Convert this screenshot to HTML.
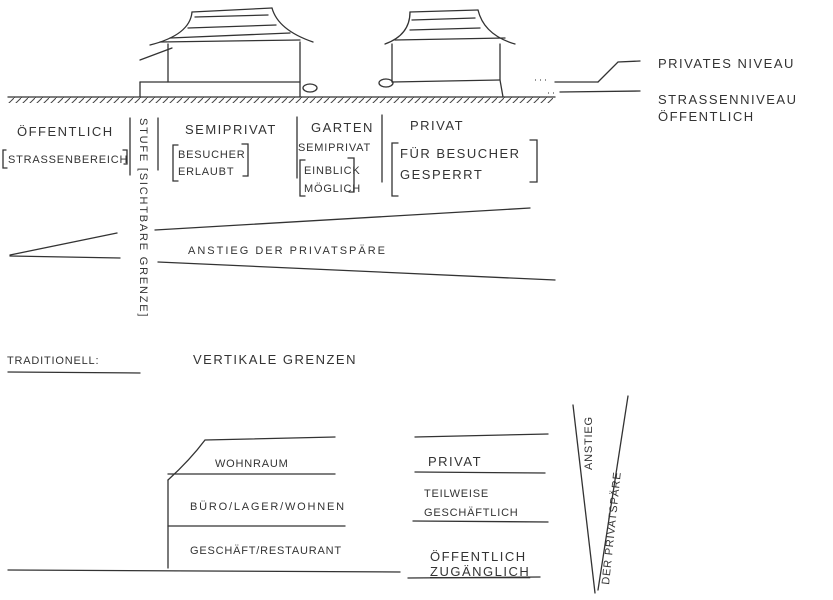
<!DOCTYPE html>
<html><head><meta charset="utf-8"><style>
html,body{margin:0;padding:0;background:#fff}
svg{display:block}
text{font-family:"Liberation Sans",sans-serif;fill:#333;font-size:13px;letter-spacing:1.5px}
.s{font-size:11px;letter-spacing:0.8px}
</style></head><body>
<svg width="833" height="600" viewBox="0 0 833 600" xmlns="http://www.w3.org/2000/svg">
<defs>
<pattern id="h" width="7" height="7" patternUnits="userSpaceOnUse">
<line x1="0" y1="7" x2="7" y2="0" stroke="#444" stroke-width="1"/>
</pattern>
</defs>
<g stroke="#333" stroke-width="1.3" fill="none" stroke-linecap="round">
<line x1="8" y1="97" x2="555" y2="97"/>
<rect x="8" y="97" width="545" height="6" fill="url(#h)" stroke="none"/>
<line x1="555" y1="82" x2="598" y2="82"/><polyline points="598,82 618,62 640,61"/>
<line x1="560" y1="92" x2="640" y2="91"/>
<line x1="168" y1="44" x2="168" y2="82"/><line x1="300" y1="42" x2="300" y2="97"/>
<line x1="140" y1="82" x2="300" y2="82"/><line x1="140" y1="82" x2="140" y2="97"/>
<line x1="140" y1="60" x2="172" y2="48"/>
<path d="M192,12 Q190,35 150,45"/><path d="M272,8 Q278,30 313,42"/>
<line x1="192" y1="12" x2="272" y2="8"/><line x1="195" y1="17" x2="268" y2="15"/>
<line x1="188" y1="28" x2="276" y2="25"/><line x1="170" y1="38" x2="290" y2="33"/>
<line x1="160" y1="42" x2="300" y2="40"/>
<ellipse cx="310" cy="88" rx="7" ry="4"/>
<line x1="392" y1="44" x2="392" y2="82"/><path d="M500,44 L500,80 L503,97"/>
<line x1="392" y1="82" x2="500" y2="80"/>
<path d="M410,12 Q410,35 385,44"/><path d="M478,10 Q484,35 515,44"/>
<line x1="410" y1="12" x2="478" y2="10"/><line x1="412" y1="20" x2="475" y2="18"/>
<line x1="410" y1="30" x2="480" y2="28"/><line x1="395" y1="40" x2="505" y2="38"/>
<ellipse cx="386" cy="83" rx="7" ry="4"/>
<line x1="130" y1="118" x2="130" y2="175"/><line x1="158" y1="118" x2="158" y2="170"/>
<line x1="297" y1="117" x2="297" y2="178"/><line x1="382" y1="115" x2="382" y2="182"/>
<path d="M6,150 L3,150 L3,168 L7,168"/><path d="M123,150 L127,150 L127,164 L124,164"/>
<path d="M178,145 L173,145 L173,181 L178,181"/><path d="M242,144 L248,144 L248,176 L243,176"/>
<path d="M305,160 L300,160 L300,196 L305,196"/><path d="M348,158 L354,158 L354,192 L349,192"/>
<path d="M398,143 L392,143 L392,196 L398,196"/><path d="M530,140 L537,140 L537,182 L530,182"/>
<line x1="155" y1="230" x2="530" y2="208"/><line x1="158" y1="262" x2="555" y2="280"/>
<line x1="10" y1="255" x2="117" y2="233"/><line x1="10" y1="256" x2="120" y2="258"/>
<line x1="8" y1="372" x2="140" y2="373"/>
<line x1="168" y1="480" x2="168" y2="568"/>
<path d="M168,480 Q190,460 205,440 L335,437"/>
<line x1="168" y1="474" x2="335" y2="474"/><line x1="168" y1="526" x2="345" y2="526"/>
<line x1="8" y1="570" x2="400" y2="572"/>
<line x1="415" y1="437" x2="548" y2="434"/><line x1="415" y1="472" x2="545" y2="473"/>
<line x1="413" y1="521" x2="548" y2="522"/><line x1="408" y1="578" x2="540" y2="577"/>
<line x1="573" y1="405" x2="595" y2="593"/><line x1="628" y1="396" x2="598" y2="590"/>
</g>
<g stroke="#555" stroke-width="1.2" stroke-dasharray="1 4">
<line x1="535" y1="80" x2="550" y2="80"/><line x1="548" y1="93" x2="558" y2="93"/>
</g>
<text x="658" y="68">PRIVATES NIVEAU</text>
<text x="658" y="104">STRASSENNIVEAU</text>
<text x="658" y="121">ÖFFENTLICH</text>
<text x="17" y="136">ÖFFENTLICH</text>
<text class="s" x="8" y="163">STRASSENBEREICH</text>
<text x="185" y="134">SEMIPRIVAT</text>
<text class="s" x="178" y="158">BESUCHER</text>
<text class="s" x="178" y="175">ERLAUBT</text>
<text x="311" y="132">GARTEN</text>
<text class="s" x="298" y="151">SEMIPRIVAT</text>
<text class="s" x="304" y="174">EINBLICK</text>
<text class="s" x="304" y="192">MÖGLICH</text>
<text x="410" y="130">PRIVAT</text>
<text x="400" y="158">FÜR BESUCHER</text>
<text x="400" y="179">GESPERRT</text>
<text transform="translate(140,118) rotate(90)" class="s" style="letter-spacing:1.8px">STUFE [SICHTBARE GRENZE]</text>
<text x="188" y="254" class="s" style="letter-spacing:2px">ANSTIEG DER PRIVATSPÄRE</text>
<text x="7" y="364" class="s">TRADITIONELL:</text>
<text x="193" y="364">VERTIKALE GRENZEN</text>
<text x="215" y="467" class="s">WOHNRAUM</text>
<text x="190" y="510" class="s" style="letter-spacing:1.8px">BÜRO/LAGER/WOHNEN</text>
<text x="190" y="554" class="s">GESCHÄFT/RESTAURANT</text>
<text x="428" y="466">PRIVAT</text>
<text x="424" y="497" class="s">TEILWEISE</text>
<text x="424" y="516" class="s">GESCHÄFTLICH</text>
<text x="430" y="561">ÖFFENTLICH</text>
<text x="430" y="576" style="text-decoration:underline">ZUGÄNGLICH</text>
<text transform="translate(592,470) rotate(-90)" class="s">ANSTIEG</text>
<text transform="translate(609,585) rotate(-84)" class="s">DER PRIVATSPÄRE</text>
</svg>
</body></html>
